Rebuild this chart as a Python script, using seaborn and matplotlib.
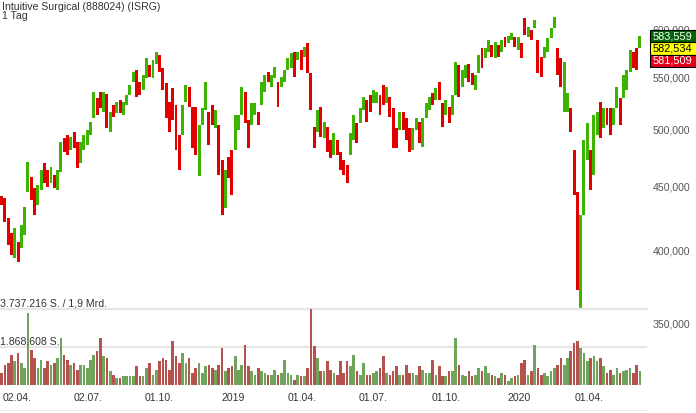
import numpy as np
import pandas as pd
import matplotlib
matplotlib.use("Agg")
import matplotlib.pyplot as plt
import seaborn as sns
from matplotlib.patches import Rectangle
from matplotlib.lines import Line2D
from matplotlib.transforms import IdentityTransform
from matplotlib.ticker import FixedLocator, FuncFormatter, NullLocator

# ---------------- data ----------------
title = "Intuitive Surgical (888024) (ISRG)"
interval_label = "1 Tag"
start_date = "2018-03-12"
bar_days = 3

opens = [442.5, 440.9, 425.0, 413.5, 395.0, 406.7, 402.3, 412.0, 445.8, 458.2,
         449.0, 435.3, 447.4, 470.1, 464.1, 453.2, 459.9, 447.4, 462.4, 492.2,
         494.9, 481.5, 497.7, 488.6, 470.1, 481.5, 485.9, 494.9, 510.6, 529.6,
         535.5, 516.2, 533.6, 497.7, 522.9, 515.3, 527.7, 513.4, 522.9, 532.6,
         545.4, 557.6, 545.4, 537.5, 549.5, 562.7, 549.5, 563.8, 573.1, 559.6,
         544.4, 525.8, 539.5, 522.9, 494.9, 494.9, 525.8, 540.5, 521.0, 521.0,
         459.0, 504.1, 518.1, 516.2, 522.9, 501.3, 504.1, 472.7, 432.9, 475.3,
         481.5, 481.5, 499.5, 513.4, 535.5, 508.7, 504.1, 513.4, 516.2, 522.9,
         535.5, 555.6, 540.5, 549.5, 545.4, 540.5, 545.4, 557.6, 559.6, 576.3,
         567.9, 578.4, 571.0, 585.8, 554.6, 502.3, 497.7, 521.0, 492.2, 502.3,
         490.4, 477.1, 490.4, 479.7, 472.7, 468.4, 477.1, 490.4, 506.0, 506.0,
         518.1, 527.7, 532.6, 524.9, 524.9, 532.6, 542.4, 524.9, 530.6, 520.0,
         501.3, 499.5, 516.2, 510.6, 501.3, 481.5, 499.5, 506.9, 484.1, 510.6,
         518.1, 534.5, 527.7, 545.4, 524.9, 513.4, 521.0, 513.4, 532.6, 562.7,
         540.5, 549.5, 563.8, 554.6, 537.5, 554.6, 580.5, 569.9, 576.3, 583.7,
         569.9, 583.7, 576.3, 592.4, 585.8, 589.1, 592.4, 578.4, 585.8, 613.3,
         592.4, 600.0, 602.2, 589.1, 571.0, 569.9, 576.3, 591.3, 602.2, 580.5,
         569.9, 516.2, 516.2, 520.0, 481.5, 445.8, 358.5, 427.4, 472.7, 481.5,
         459.9, 494.9, 525.8, 501.3, 520.0, 520.0, 504.1, 520.0, 529.6, 529.6,
         537.5, 555.6, 576.3, 580.5, 580.5]

closes = [435.3, 422.0, 404.5, 397.2, 417.3, 392.1, 419.6, 433.7, 471.0, 439.3,
          427.4, 451.5, 464.1, 453.2, 449.9, 466.7, 449.0, 464.1, 488.6, 479.7,
          477.1, 493.1, 483.2, 465.8, 488.6, 494.9, 499.5, 506.9, 535.5, 513.4,
          520.0, 535.5, 501.3, 516.2, 511.6, 525.8, 515.3, 525.8, 532.6, 542.4,
          555.6, 530.6, 532.6, 552.5, 569.9, 550.5, 567.9, 576.3, 555.6, 537.5,
          510.6, 497.7, 508.7, 481.5, 464.1, 522.9, 542.4, 521.0, 483.2, 477.1,
          504.1, 520.0, 545.4, 485.9, 504.1, 518.1, 459.9, 427.4, 464.1, 457.4,
          443.3, 513.4, 513.4, 540.5, 506.0, 483.2, 524.9, 524.9, 504.1, 545.4,
          552.5, 545.4, 552.5, 560.7, 521.0, 550.5, 557.6, 569.9, 575.2, 550.5,
          576.3, 557.6, 581.6, 554.6, 518.1, 483.2, 518.1, 493.1, 506.9, 479.7,
          474.4, 496.8, 477.1, 464.1, 459.9, 453.2, 496.8, 513.4, 487.7, 520.0,
          530.6, 506.9, 516.2, 537.5, 535.5, 513.4, 522.9, 540.5, 511.6, 483.2,
          483.2, 516.2, 499.5, 490.4, 479.7, 501.3, 510.6, 487.7, 510.6, 524.9,
          530.6, 522.9, 539.5, 527.7, 502.3, 527.7, 506.0, 532.6, 565.8, 530.6,
          557.6, 562.7, 545.4, 542.4, 552.5, 573.1, 559.6, 580.5, 589.1, 571.0,
          587.0, 571.0, 589.1, 581.6, 593.4, 596.7, 581.6, 592.4, 569.9, 594.5,
          603.3, 589.1, 611.1, 554.6, 550.5, 581.6, 591.3, 602.2, 614.4, 552.5,
          540.5, 565.8, 534.5, 497.7, 443.3, 372.5, 427.4, 490.4, 506.0, 447.4,
          513.4, 516.2, 492.2, 520.0, 504.1, 494.9, 520.0, 540.5, 504.1, 552.5,
          557.6, 578.4, 559.6, 557.6, 593.4]

volumes = [590000, 983000, 1082000, 1475000, 1180000, 1574000, 1082000, 836000, 3541000, 1721000,
           1328000, 836000, 1229000, 836000, 1180000, 983000, 1082000, 1328000, 2311000, 1475000,
           1229000, 983000, 1082000, 738000, 983000, 983000, 836000, 1229000, 1475000, 1672000,
           2311000, 1426000, 1328000, 688000, 492000, 344000, 344000, 443000, 443000, 443000,
           443000, 934000, 443000, 443000, 836000, 1082000, 492000, 738000, 1180000, 1328000,
           1229000, 738000, 2164000, 1426000, 1082000, 1574000, 1082000, 1328000, 590000, 836000,
           1082000, 590000, 934000, 983000, 836000, 738000, 983000, 1819000, 688000, 836000,
           934000, 1426000, 738000, 983000, 1967000, 934000, 688000, 492000, 836000, 688000,
           590000, 492000, 492000, 738000, 492000, 590000, 1229000, 590000, 492000, 246000,
           492000, 443000, 443000, 836000, 3786000, 1918000, 1328000, 688000, 688000, 1180000,
           738000, 590000, 492000, 1180000, 590000, 1180000, 934000, 1475000, 688000, 492000,
           1082000, 492000, 492000, 590000, 688000, 836000, 1426000, 590000, 492000, 688000,
           934000, 492000, 492000, 983000, 590000, 590000, 492000, 934000, 738000, 590000,
           590000, 1229000, 492000, 934000, 443000, 443000, 688000, 688000, 2311000, 983000,
           492000, 443000, 688000, 443000, 492000, 836000, 688000, 934000, 590000, 492000,
           443000, 344000, 590000, 492000, 197000, 344000, 443000, 492000, 1082000, 1229000,
           492000, 688000, 1967000, 836000, 492000, 590000, 443000, 688000, 836000, 983000,
           1328000, 983000, 1328000, 1672000, 2065000, 2164000, 1819000, 1574000, 1180000, 1328000,
           1426000, 1180000, 1328000, 934000, 590000, 738000, 492000, 836000, 590000, 688000,
           738000, 836000, 590000, 983000, 688000]

tick_dates = ["2018-04-02", "2018-07-02", "2018-10-01", "2019-01-02", "2019-04-01",
              "2019-07-01", "2019-10-01", "2020-01-02", "2020-04-01"]
tick_labels = ["02.04.", "02.07.", "01.10.", "2019", "01.04.", "01.07.", "01.10.", "2020", "01.04."]
price_ticks = [350, 400, 450, 500, 550, 600]

quote_ask = 583.559
quote_last = 582.534
quote_bid = 581.509

vol_ref = 3737216
vol_ref_label = "3.737.216 S. / 1,9 Mrd."
vol_half_label = "1.868.608 S."

# ---------------- styling ----------------
sns.set_theme(style="white")
plt.rcParams['font.family'] = ['Liberation Sans', 'DejaVu Sans']

GREEN = "#3cb400"
RED = "#e00000"
VGREEN = "#6ea55a"
VRED = "#b5524e"
GRID = "#e6e6e6"
FS = 7.6

W, H = 696, 413
fig = plt.figure(figsize=(W / 100, H / 100), dpi=100)
plot_w = 647
px_per_bar = 3.29
ax = fig.add_axes([0, 1 - 385 / H, plot_w / W, 385 / H], zorder=1)
axv = fig.add_axes([0, 1 - 385 / H, plot_w / W, 76 / H], zorder=2)

n = len(opens)
o = np.array(opens)
c = np.array(closes)
up = c >= o
df = pd.DataFrame({"i": np.arange(n), "open": o, "close": c,
                   "volume": volumes, "dir": np.where(up, "up", "down")})

xlim = (-0.5, -0.5 + plot_w / px_per_bar)

# ---- price candles ----
lo = np.minimum(o, c)
hi = np.maximum(o, c)
ax.bar(df["i"], hi - lo, bottom=lo, width=0.9,
       color=np.where(up, GREEN, RED), linewidth=0)
ax.set_yscale("log")
ax.set_ylim(312.79, 633.95)
ax.set_xlim(*xlim)
ax.yaxis.tick_right()
ax.yaxis.set_major_locator(FixedLocator(price_ticks))
ax.yaxis.set_minor_locator(NullLocator())
ax.yaxis.set_major_formatter(FuncFormatter(lambda v, p: f"{v:.3f}".replace(".", ",")))
ax.tick_params(axis="y", length=0, pad=4, labelsize=FS, labelcolor="#555555")
ax.set_xticks([])
ax.grid(False)
for s in ax.spines.values():
    s.set_visible(False)
ax.patch.set_alpha(0)

# ---- volume ----
axv.set_facecolor("white")
sns.barplot(data=df, x="i", y="volume", hue="dir",
            palette={"up": VGREEN, "down": VRED}, native_scale=True,
            dodge=False, width=0.8, errorbar=None, saturation=1,
            legend=False, linewidth=0, ax=axv)
axv.set_xlim(*xlim)
axv.set_ylim(0, vol_ref)
axv.axhline(vol_ref, color=GRID, lw=1.7, zorder=0.5, clip_on=False)
axv.axhline(vol_ref / 2, color=GRID, lw=1.5, zorder=0.5)
axv.set_yticks([])
axv.set_xlabel("")
axv.set_ylabel("")
start = np.datetime64(start_date)
tick_pos = [(np.busday_count(start, np.datetime64(d)) + 0.5) / bar_days - 0.5 for d in tick_dates]
axv.set_xticks(tick_pos)
axv.set_xticklabels(tick_labels)
axv.tick_params(axis="x", length=0, pad=5.5, labelsize=FS, labelcolor="#333333")
axv.grid(False)
for s in axv.spines.values():
    s.set_visible(False)
tr = axv.get_yaxis_transform()
axv.text(0, vol_ref, vol_ref_label, transform=tr, ha="left", va="bottom",
         fontsize=FS, color="#333333", zorder=5)
axv.text(0, vol_ref / 2, vol_half_label, transform=tr, ha="left", va="bottom",
         fontsize=FS, color="#333333", zorder=5)

# ---- title ----
fig.text(2 / W, 1 - 10 / H, title, ha="left", va="baseline", fontsize=FS, color="#333333")
fig.text(2 / W, 1 - 19 / H, interval_label, ha="left", va="baseline", fontsize=FS, color="#333333")

# bottom faint line
fig.add_artist(Line2D([0, plot_w / W], [1 - 410 / H] * 2, color="#efefef", lw=1))

# ---- quote boxes ----
fig.canvas.draw()
y_last = ax.transData.transform((0, quote_last))[1] - 2.5
bh = 12.3
boxes = [(quote_ask, "#05640a", "white", y_last + bh / 2),
         (quote_last, "#ffff00", "black", y_last - bh / 2),
         (quote_bid, "#e3001b", "white", y_last - 1.5 * bh)]
for val, fc, tc, ybot in boxes:
    fig.add_artist(Rectangle((650, ybot), 50, bh, transform=IdentityTransform(),
                             facecolor=fc, edgecolor="black", linewidth=0.8, zorder=5))
    fig.text(653, ybot + bh / 2, f"{val:.3f}".replace(".", ","), transform=IdentityTransform(),
             ha="left", va="center", fontsize=FS + 0.3, color=tc, zorder=6)

fig.savefig("out.png", dpi=100)
